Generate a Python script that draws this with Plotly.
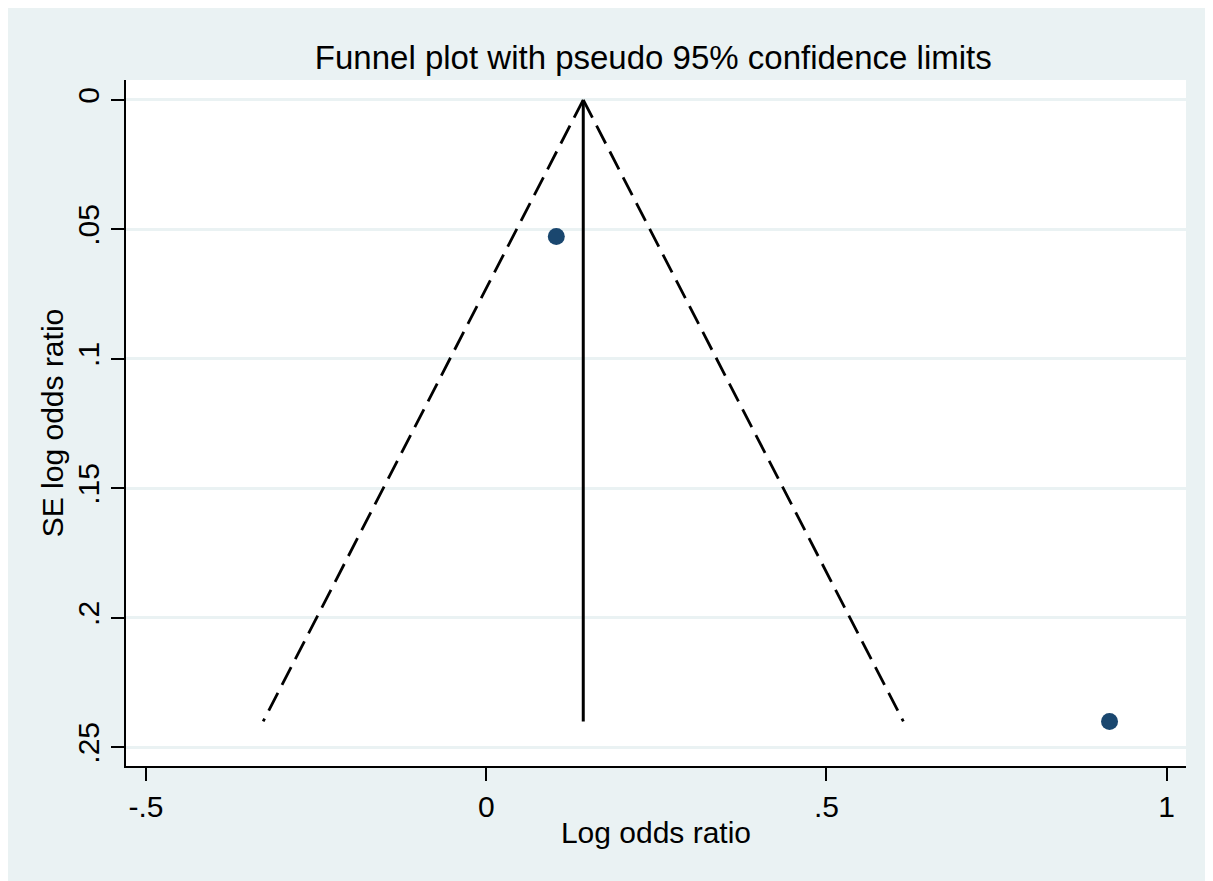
import plotly.graph_objects as go

# Study estimates
log_or = [0.103, 0.916]
se_log_or = [0.0527, 0.2400]

# Pooled estimate and pseudo 95% confidence limits
pooled = 0.1426
funnel_se = [0.0, 0.2400]
funnel_lower = [0.1426, -0.3278]
funnel_upper = [0.1426, 0.6130]

x_ticks = [-0.5, 0, 0.5, 1]
x_labels = ["-.5", "0", ".5", "1"]
y_ticks = [0, 0.05, 0.1, 0.15, 0.2, 0.25]
y_labels = ["0", ".05", ".1", ".15", ".2", ".25"]

FONT = "Liberation Sans, Arial, sans-serif"
DASH = "20px,9px"

fig = go.Figure()
fig.add_trace(go.Scatter(x=funnel_lower, y=funnel_se, mode="lines",
                         line=dict(color="black", width=2.8, dash=DASH),
                         showlegend=False, hoverinfo="skip"))
fig.add_trace(go.Scatter(x=funnel_upper, y=funnel_se, mode="lines",
                         line=dict(color="black", width=2.8, dash=DASH),
                         showlegend=False, hoverinfo="skip"))
fig.add_trace(go.Scatter(x=[pooled, pooled], y=funnel_se, mode="lines",
                         line=dict(color="black", width=3),
                         showlegend=False, hoverinfo="skip"))
fig.add_trace(go.Scatter(x=log_or, y=se_log_or, mode="markers",
                         marker=dict(color="#1A476F", size=17),
                         showlegend=False))

fig.update_layout(
    width=1213, height=881,
    margin=dict(l=118, r=35, t=72, b=123),
    paper_bgcolor="#EAF2F3", plot_bgcolor="white",
    font=dict(family=FONT, color="black", size=30),
    title=dict(text="Funnel plot with pseudo 95% confidence limits",
               x=0.532, xanchor="center", y=0.944, yanchor="middle",
               font=dict(size=33, family=FONT, color="black")),
)
fig.update_xaxes(range=[-0.5294, 1.0284], tickvals=x_ticks, ticktext=x_labels,
                 showgrid=False, zeroline=False, showline=True, linecolor="black",
                 linewidth=2, ticks="outside", ticklen=13, tickwidth=2, tickcolor="black",
                 title=dict(text="Log odds ratio", standoff=0, font=dict(size=30)),
                 tickfont=dict(size=30))
fig.update_yaxes(range=[0.2572, -0.0077], tickvals=y_ticks, ticktext=y_labels,
                 showgrid=True, gridcolor="#EAF2F3", gridwidth=2.5, zeroline=False,
                 showline=True, linecolor="black", linewidth=2,
                 ticks="outside", ticklen=13, tickwidth=2, tickcolor="black",
                 tickangle=-90,
                 title=dict(text="SE log odds ratio", standoff=0, font=dict(size=30)),
                 tickfont=dict(size=30))

fig.write_html("out.html")
